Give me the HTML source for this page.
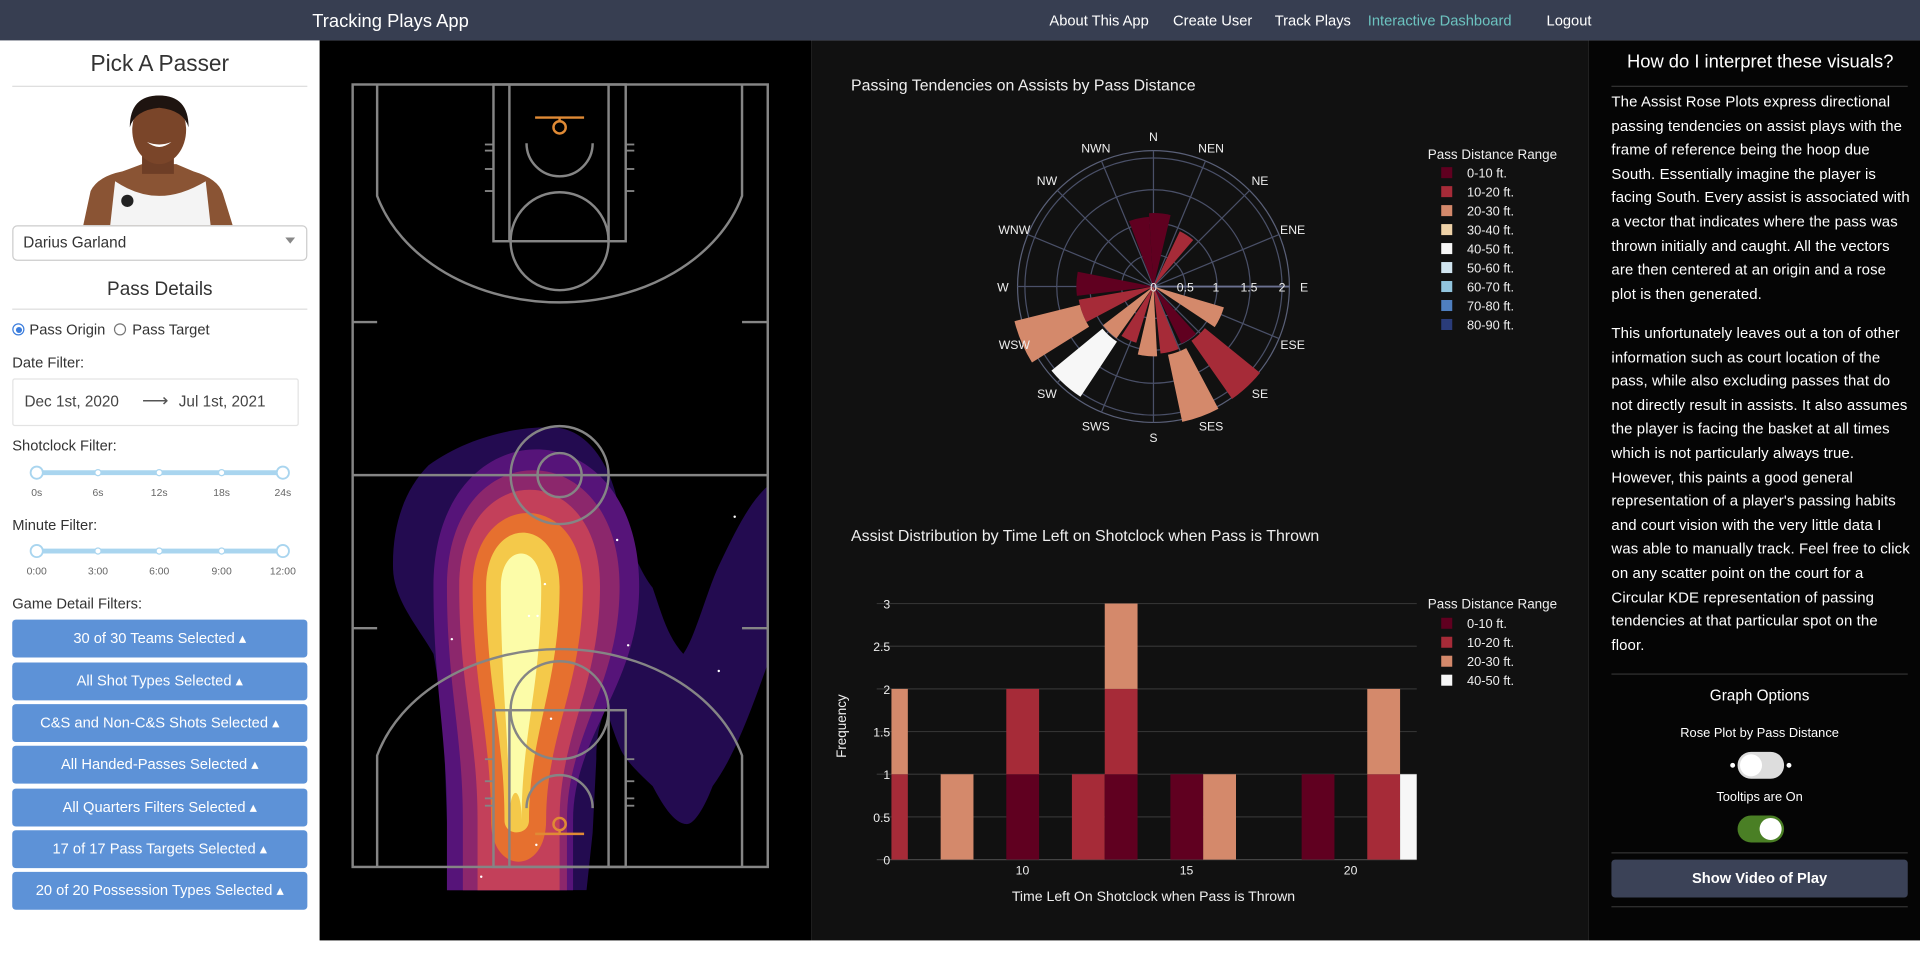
<!DOCTYPE html>
<html><head><meta charset="utf-8">
<style>
html,body{margin:0;padding:0;width:1920px;height:965px;overflow:hidden;background:#fff;font-family:"Liberation Sans",sans-serif;}
#w{position:absolute;left:0;top:0;width:1568px;height:788px;transform:scale(1.22449);transform-origin:0 0;}
.a{position:absolute;white-space:nowrap;}
.nav{position:absolute;left:0;top:0;width:1568px;height:33px;background:#373e51;}
.btn{position:absolute;left:10px;width:241px;height:31px;background:#5d92d7;border-radius:3px;color:#fff;font-size:12px;text-align:center;line-height:31px;}
.hr{position:absolute;height:1px;background:#ddd;}
.p{position:absolute;left:1316px;width:244px;color:#fff;font-size:12.2px;line-height:19.6px;letter-spacing:0.1px;}
</style></head><body><div id="w">
<div class="nav"></div>
<div class="a" style="left:255px;top:9px;color:#fff;font-size:15px;">Tracking Plays App</div>
<div class="a" style="left:857px;top:10px;color:#fff;font-size:12px;">About This App</div>
<div class="a" style="left:958px;top:10px;color:#fff;font-size:12px;">Create User</div>
<div class="a" style="left:1041px;top:10px;color:#fff;font-size:12px;">Track Plays</div>
<div class="a" style="left:1117px;top:10px;color:#6cc3c0;font-size:12px;">Interactive Dashboard</div>
<div class="a" style="left:1263px;top:10px;color:#fff;font-size:12px;">Logout</div>

<div class="a" style="left:0;top:41px;width:261px;text-align:center;color:#333;font-size:18.5px;">Pick A Passer</div>
<div class="hr" style="left:10px;top:70px;width:241px;"></div>
<svg class="a" style="left:60px;top:76px" width="140" height="108">
<path d="M8 108 L14 80 Q20 68 40 64 L56 58 L84 58 L98 64 Q118 70 122 82 L130 108Z" fill="#8a5434"/>
<path d="M30 108 L34 72 Q52 84 70 84 Q88 84 108 72 L112 108Z" fill="#f4f4f4"/>
<rect x="56" y="44" width="26" height="22" fill="#6e3e26"/>
<ellipse cx="70" cy="30" rx="22" ry="28" fill="#7a4529"/>
<path d="M46 28 Q46 2 70 2 Q94 2 94 28 Q90 14 70 12 Q50 14 46 28Z" fill="#1e1410"/>
<path d="M60 40 Q70 48 80 40 Q70 44 60 40Z" fill="#fff"/>
<circle cx="44" cy="88" r="5" fill="#222"/>
</svg>
<div class="a" style="left:10px;top:184px;width:239px;height:27px;border:1px solid #ccc;border-radius:4px;"></div>
<div class="a" style="left:19px;top:191px;color:#333;font-size:12.5px;">Darius Garland</div>
<div class="a" style="left:233px;top:194px;width:0;height:0;border-left:4px solid transparent;border-right:4px solid transparent;border-top:5px solid #888;"></div>
<div class="a" style="left:0;top:228px;width:261px;text-align:center;color:#333;font-size:15.5px;">Pass Details</div>
<div class="hr" style="left:10px;top:252px;width:241px;"></div>
<div class="a" style="left:10px;top:264px;width:8px;height:8px;border:1px solid #3b7ddd;border-radius:50%;background:#fff;"></div>
<div class="a" style="left:12.5px;top:266.5px;width:5px;height:5px;border-radius:50%;background:#3b7ddd;"></div>
<div class="a" style="left:24px;top:262px;color:#333;font-size:12px;">Pass Origin</div>
<div class="a" style="left:93px;top:264px;width:8px;height:8px;border:1px solid #777;border-radius:50%;"></div>
<div class="a" style="left:108px;top:262px;color:#333;font-size:12px;">Pass Target</div>
<div class="a" style="left:10px;top:289px;color:#333;font-size:12px;">Date Filter:</div>
<div class="a" style="left:10px;top:309px;width:232px;height:37px;border:1px solid #e3e3e3;border-radius:2px;"></div>
<div class="a" style="left:20px;top:321px;color:#444;font-size:12.5px;">Dec 1st, 2020</div>
<div class="a" style="left:116px;top:318px;color:#555;font-size:15px;">⟶</div>
<div class="a" style="left:146px;top:321px;color:#444;font-size:12.5px;">Jul 1st, 2021</div>
<div class="a" style="left:10px;top:357px;color:#333;font-size:12px;">Shotclock Filter:</div>
<div class="a" style="left:10px;top:422px;color:#333;font-size:12px;">Minute Filter:</div>
<div class="a" style="left:10px;top:486px;color:#333;font-size:12px;">Game Detail Filters:</div>
<svg class="a" style="left:0;top:375px" width="261" height="100">
<g font-family="Liberation Sans" font-size="8.5" fill="#666" text-anchor="middle">
<line x1="30" y1="11" x2="231" y2="11" stroke="#a9d5ef" stroke-width="4"/>
<circle cx="30" cy="11" r="5" fill="#fff" stroke="#a9d5ef" stroke-width="1.5"/><circle cx="231" cy="11" r="5" fill="#fff" stroke="#a9d5ef" stroke-width="1.5"/>
<circle cx="80" cy="11" r="2.5" fill="#fff" stroke="#a9d5ef"/><circle cx="130" cy="11" r="2.5" fill="#fff" stroke="#a9d5ef"/><circle cx="181" cy="11" r="2.5" fill="#fff" stroke="#a9d5ef"/>
<text x="30" y="30">0s</text><text x="80" y="30">6s</text><text x="130" y="30">12s</text><text x="181" y="30">18s</text><text x="231" y="30">24s</text>
<line x1="30" y1="75" x2="231" y2="75" stroke="#a9d5ef" stroke-width="4"/>
<circle cx="30" cy="75" r="5" fill="#fff" stroke="#a9d5ef" stroke-width="1.5"/><circle cx="231" cy="75" r="5" fill="#fff" stroke="#a9d5ef" stroke-width="1.5"/>
<circle cx="80" cy="75" r="2.5" fill="#fff" stroke="#a9d5ef"/><circle cx="130" cy="75" r="2.5" fill="#fff" stroke="#a9d5ef"/><circle cx="181" cy="75" r="2.5" fill="#fff" stroke="#a9d5ef"/>
<text x="30" y="94">0:00</text><text x="80" y="94">3:00</text><text x="130" y="94">6:00</text><text x="181" y="94">9:00</text><text x="231" y="94">12:00</text>
</g></svg>
<div class="btn" style="top:506px;">30 of 30 Teams Selected ▴</div>
<div class="btn" style="top:541px;">All Shot Types Selected ▴</div>
<div class="btn" style="top:575px;">C&amp;S and Non-C&amp;S Shots Selected ▴</div>
<div class="btn" style="top:609px;">All Handed-Passes Selected ▴</div>
<div class="btn" style="top:644px;">All Quarters Filters Selected ▴</div>
<div class="btn" style="top:678px;">17 of 17 Pass Targets Selected ▴</div>
<div class="btn" style="top:712px;">20 of 20 Possession Types Selected ▴</div>

<svg class="a" style="left:0;top:0" width="1568" height="788">
<rect x="261" y="33" width="402" height="735" fill="#000"/>
<rect x="663" y="33" width="634" height="735" fill="#111"/>
<rect x="1297" y="33" width="271" height="735" fill="#050505"/>
<defs><clipPath id="kc"><rect x="288" y="340" width="339" height="387"/></clipPath></defs>
<g clip-path="url(#kc)" id="kde">
<path d="M452 349 C480 350 500 380 506 418 C515 450 525 470 533 480 C540 500 545 520 558 534 C568 520 578 480 588 460 C600 435 612 410 627 397 L627 542 C610 590 598 620 582 642 C575 660 567 673 561 673 C550 673 540 655 533 642 C520 630 510 620 506 610 C500 595 497 585 495 577 C490 590 487 600 487 620 L484 680 L479 727 L367 727 L363 615 C360 570 357 550 354 534 C340 510 322 490 321 465 C320 430 330 400 350 380 C380 358 420 348 452 349Z" fill="#230b50"/>
</g>
<g fill="#fff"><circle cx="600" cy="422" r="1"/><circle cx="504" cy="441" r="1"/><circle cx="445" cy="477" r="1"/><circle cx="369" cy="522" r="1"/><circle cx="513" cy="527" r="1"/><circle cx="587" cy="548" r="1"/><circle cx="450" cy="587" r="1"/><circle cx="438" cy="690" r="1"/><circle cx="393" cy="716" r="1"/><circle cx="432" cy="503" r="1"/><circle cx="439" cy="503" r="1"/></g>
<g fill="none" stroke="#858585" stroke-width="2">
<rect x="288" y="69" width="339" height="639"/>
<line x1="288" y1="388" x2="627" y2="388"/>
<circle cx="457" cy="388" r="40"/><circle cx="457" cy="388" r="18"/>
<line x1="288" y1="263" x2="308" y2="263"/><line x1="606" y1="263" x2="627" y2="263"/>
<line x1="288" y1="513" x2="308" y2="513"/><line x1="606" y1="513" x2="627" y2="513"/>
<rect x="403" y="69" width="108" height="128"/><line x1="416" y1="69" x2="416" y2="197"/><line x1="497" y1="69" x2="497" y2="197"/>
<circle cx="457" cy="197" r="40"/>
<path d="M308 69 L308 160 A155 120 0 0 0 606 160 L606 69"/>
<path d="M430 117 A27 27 0 0 0 484 117"/>
<g stroke-width="1.5"><line x1="396" y1="118" x2="403" y2="118"/><line x1="396" y1="123" x2="403" y2="123"/><line x1="396" y1="138" x2="403" y2="138"/><line x1="396" y1="156" x2="403" y2="156"/>
<line x1="511" y1="118" x2="518" y2="118"/><line x1="511" y1="123" x2="518" y2="123"/><line x1="511" y1="138" x2="518" y2="138"/><line x1="511" y1="156" x2="518" y2="156"/>
<line x1="396" y1="620" x2="403" y2="620"/><line x1="396" y1="638" x2="403" y2="638"/><line x1="396" y1="652" x2="403" y2="652"/><line x1="396" y1="658" x2="403" y2="658"/>
<line x1="511" y1="620" x2="518" y2="620"/><line x1="511" y1="638" x2="518" y2="638"/><line x1="511" y1="652" x2="518" y2="652"/><line x1="511" y1="658" x2="518" y2="658"/></g>
<rect x="403" y="580" width="108" height="128"/><line x1="416" y1="580" x2="416" y2="708"/><line x1="497" y1="580" x2="497" y2="708"/>
<circle cx="457" cy="580" r="40"/>
<path d="M308 708 L308 617 A155 120 0 0 1 606 617 L606 708"/>
<path d="M430 660 A27 27 0 0 1 484 660"/>
</g>
<g stroke="#e08a35" stroke-width="2" fill="none">
<line x1="437" y1="96" x2="477" y2="96"/><line x1="457" y1="96" x2="457" y2="99"/><circle cx="457" cy="104" r="5"/>
<line x1="437" y1="681" x2="477" y2="681"/><line x1="457" y1="678" x2="457" y2="681"/><circle cx="457" cy="673" r="5"/>
</g>
<g id="rose"></g>
<g id="hist"></g>
<g font-family="Liberation Sans" fill="#eee">
<text x="695" y="74" font-size="13">Passing Tendencies on Assists by Pass Distance</text>
<text x="695" y="442" font-size="13">Assist Distribution by Time Left on Shotclock when Pass is Thrown</text>
<text x="1166" y="130" font-size="11">Pass Distance Range</text>
<text x="1166" y="497" font-size="11">Pass Distance Range</text>
<text x="942" y="736" font-size="11.5" text-anchor="middle">Time Left On Shotclock when Pass is Thrown</text>
<text transform="translate(691,593) rotate(-90)" font-size="11" text-anchor="middle">Frequency</text>
</g>
<g id="leg"></g>
</svg>

<div class="a" style="left:1297px;top:42px;width:281px;text-align:center;color:#fff;font-size:15px;">How do I interpret these visuals?</div>
<div class="hr" style="left:1316px;top:70px;width:242px;background:#333;"></div>
<div class="p" style="top:74px;">The Assist Rose Plots express directional passing tendencies on assist plays with the frame of reference being the hoop due South. Essentially imagine the player is facing South. Every assist is associated with a vector that indicates where the pass was thrown initially and caught. All the vectors are then centered at an origin and a rose plot is then generated.</div>
<div class="p" style="top:263px;">This unfortunately leaves out a ton of other information such as court location of the pass, while also excluding passes that do not directly result in assists. It also assumes the player is facing the basket at all times which is not particularly always true. However, this paints a good general representation of a player's passing habits and court vision with the very little data I was able to manually track. Feel free to click on any scatter point on the court for a Circular KDE representation of passing tendencies at that particular spot on the floor.</div>
<div class="hr" style="left:1316px;top:550px;width:242px;background:#333;"></div>
<div class="a" style="left:1316px;top:561px;width:242px;text-align:center;color:#fff;font-size:12.5px;">Graph Options</div>
<div class="a" style="left:1316px;top:593px;width:242px;text-align:center;color:#fff;font-size:10.5px;">Rose Plot by Pass Distance</div>
<div class="a" style="left:1419px;top:614px;width:38px;height:22px;border-radius:11px;background:#ddd;"></div>
<div class="a" style="left:1421px;top:616px;width:18px;height:18px;border-radius:50%;background:#fff;"></div>
<div class="a" style="left:1413px;top:623px;width:4px;height:4px;border-radius:50%;background:#fff;"></div>
<div class="a" style="left:1459px;top:623px;width:4px;height:4px;border-radius:50%;background:#fff;"></div>
<div class="a" style="left:1316px;top:645px;width:242px;text-align:center;color:#fff;font-size:10.5px;">Tooltips are On</div>
<div class="a" style="left:1419px;top:666px;width:38px;height:22px;border-radius:11px;background:#4a7f25;"></div>
<div class="a" style="left:1437px;top:668px;width:18px;height:18px;border-radius:50%;background:#fff;"></div>
<div class="hr" style="left:1316px;top:696px;width:242px;background:#333;"></div>
<div class="a" style="left:1316px;top:702px;width:242px;height:31px;border-radius:3px;background:#3b4257;color:#fff;font-size:12px;font-weight:bold;text-align:center;line-height:31px;">Show Video of Play</div>
<div class="hr" style="left:1316px;top:740px;width:242px;background:#333;"></div>
</div>
<script>
var NS="http://www.w3.org/2000/svg";
function el(p,t,a,txt){var e=document.createElementNS(NS,t);for(var k in a)e.setAttribute(k,a[k]);if(txt!==undefined)e.textContent=txt;p.appendChild(e);return e;}
var kde=document.getElementById("kde");
function shp(yt,xl1,xr1,xl2,xr2,yb,round,c){var ym=479,cy=yt-(ym-yt)/3;
 var d="M"+xl1+" "+ym+" C"+xl1+" "+cy+" "+xr1+" "+cy+" "+xr1+" "+ym+" C"+xr1+" 560 "+xr2+" 600 "+xr2+" 670";
 if(round){d+=" C"+xr2+" "+(yb+15)+" "+xl2+" "+(yb+15)+" "+xl2+" 670";}else{d+=" L"+xr2+" "+yb+" L"+xl2+" "+yb+" L"+xl2+" 670";}
 d+=" C"+xl2+" 600 "+xl1+" 560 "+xl1+" "+ym+"Z";el(kde,"path",{d:d,fill:c});}
shp(367,354,522,365,468,740,false,"#561479");
shp(384,365,506,378,463,740,false,"#8c276c");
shp(400,375,490,390,457,740,false,"#c3405a");
shp(419,386,476,401,446,700,true,"#e6702f");
shp(435,397,457,412,432,668,true,"#f4c94a");
shp(452,409,442,416,426,625,true,"#fcfca8");
var C1="#600020",C2="#a62b38",C3="#d4896b",C4="#efd2a8",C5="#f7f7f7",C6="#d1e5f0",C7="#92c5de",C8="#4f7fc0",C9="#2a3c7a";
var rose=document.getElementById("rose"),cx=942,cy=234;
function pt(a,r){var t=a*Math.PI/180;return [cx+r*Math.sin(t),cy-r*Math.cos(t)];}
function wedge(a,w,r0,r1,c){var a0=a-w/2,a1=a+w/2,p1=pt(a0,r1),p2=pt(a1,r1),p3=pt(a1,r0),p4=pt(a0,r0);
 var d="M"+p4+" L"+p1+" A"+r1+" "+r1+" 0 0 1 "+p2+" L"+p3+(r0>0?" A"+r0+" "+r0+" 0 0 0 "+p4:"")+"Z";
 el(rose,"path",{d:d,fill:c});}
[26,52,79,105].forEach(function(r){el(rose,"circle",{cx:cx,cy:cy,r:r,fill:"none",stroke:"#4a5068","stroke-width":1});});
el(rose,"circle",{cx:cx,cy:cy,r:111,fill:"none",stroke:"#5a6078","stroke-width":1});
var labs=["N","NEN","NE","ENE","E","ESE","SE","SES","S","SWS","SW","WSW","W","WNW","NW","NWN"];
for(var i=0;i<16;i++){var p=pt(i*22.5,111);el(rose,"line",{x1:cx,y1:cy,x2:p[0],y2:p[1],stroke:"#4a5068","stroke-width":1});}
[[5,17,0,60,C1],[-12,17,0,57,C1],[33,15,0,50,C2],[272,18,0,63,C1],[251,18,0,62,C2],[247,18,62,117,C3],[224,17,0,52,C3],[222,17,54,108,C5],[205,16,0,48,C2],[185,16,0,57,C3],[166,16,0,55,C2],[160,16,57,113,C3],[146,16,0,52,C1],[137,16,54,112,C2],[115,17,0,60,C3]].forEach(function(b){wedge(b[0],b[1],b[2],b[3],b[4]);});
el(rose,"line",{x1:cx,y1:cy,x2:cx+111,y2:cy,stroke:"#6a7090","stroke-width":1.5});
labs.forEach(function(l,i){var p=pt(i*22.5,123);el(rose,"text",{x:p[0],y:p[1]+4,"font-size":10,fill:"#eee","text-anchor":"middle","font-family":"Liberation Sans"},l);});
[["0",942],["0.5",968],["1",993],["1.5",1020],["2",1047]].forEach(function(t){el(rose,"text",{x:t[1],y:238,"font-size":10,fill:"#eee","text-anchor":"middle","font-family":"Liberation Sans"},t[0]);});
var leg=document.getElementById("leg");
[["0-10 ft.",C1],["10-20 ft.",C2],["20-30 ft.",C3],["30-40 ft.",C4],["40-50 ft.",C5],["50-60 ft.",C6],["60-70 ft.",C7],["70-80 ft.",C8],["80-90 ft.",C9]].forEach(function(l,i){var y=141+i*15.5;el(leg,"rect",{x:1177,y:y-4.5,width:9,height:9,fill:l[1]});el(leg,"text",{x:1198,y:y+4,"font-size":10.5,fill:"#eee","font-family":"Liberation Sans"},l[0]);});
[["0-10 ft.",C1],["10-20 ft.",C2],["20-30 ft.",C3],["40-50 ft.",C5]].forEach(function(l,i){var y=509+i*15.5;el(leg,"rect",{x:1177,y:y-4.5,width:9,height:9,fill:l[1]});el(leg,"text",{x:1198,y:y+4,"font-size":10.5,fill:"#eee","font-family":"Liberation Sans"},l[0]);});
var h=document.getElementById("hist"),X0=728,PX=26.8,Y0=702,PY=69.7;
for(var v=0;v<=6;v++){var y=Y0-v*0.5*PY;el(h,"line",{x1:716,y1:y,x2:1157,y2:y,stroke:v==0?"#444":"#333","stroke-width":1});el(h,"text",{x:727,y:y+4,"font-size":10,fill:"#eee","text-anchor":"end","font-family":"Liberation Sans"},["0","0.5","1","1.5","2","2.5","3"][v]);}
[[10,835],[15,969],[20,1103]].forEach(function(t){el(h,"text",{x:t[1],y:714,"font-size":10,fill:"#eee","text-anchor":"middle","font-family":"Liberation Sans"},t[0]);});
[[6,0,1,C2],[6,1,2,C3],[8,0,1,C3],[10,0,1,C1],[10,1,2,C2],[12,0,1,C2],[13,0,1,C1],[13,1,2,C2],[13,2,3,C3],[15,0,1,C1],[16,0,1,C3],[19,0,1,C1],[21,0,1,C2],[21,1,2,C3],[22,0,1,C5]].forEach(function(b){var x0=X0+(b[0]-6-0.5)*PX,x1=x0+PX;x0=Math.max(x0,728);x1=Math.min(x1,1157);el(h,"rect",{x:x0,y:Y0-b[2]*PY,width:x1-x0,height:(b[2]-b[1])*PY,fill:b[3]});});
</script>
</body></html>
